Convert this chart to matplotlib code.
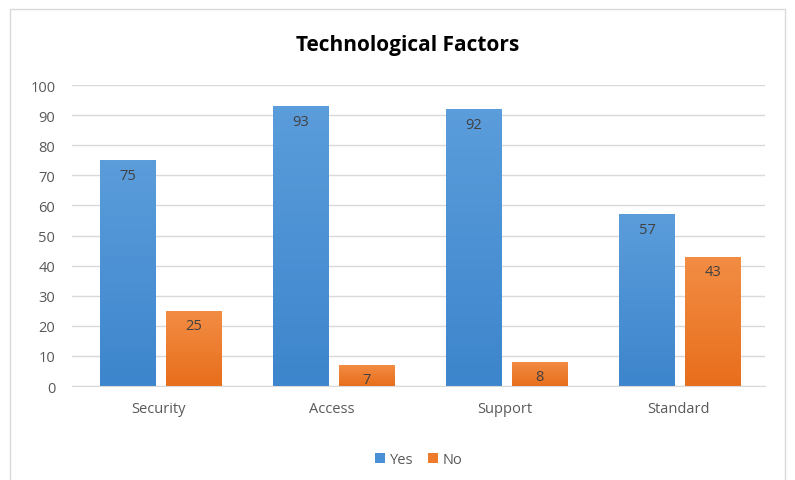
import numpy as np
import matplotlib.pyplot as plt
from matplotlib.patches import Rectangle

# data
categories = ["Security", "Access", "Support", "Standard"]
yes_vals = [75, 93, 92, 57]
no_vals = [25, 7, 8, 43]
series_names = ["Yes", "No"]

plt.rcParams['font.family'] = ['Open Sans', 'DejaVu Sans']

fig = plt.figure(figsize=(7.95, 4.81), dpi=100)
ax = fig.add_axes([0.0906, 0.1954, 0.8714, 0.6256])

# outer chart frame
fig.patches.append(Rectangle((0.013, -0.01), 0.975, 0.99, transform=fig.transFigure,
                             fill=False, edgecolor='#d9d9d9', linewidth=1))

x = np.arange(len(categories))
w = 0.32
off = 0.19

def grad_bars(bars, top, bottom):
    # vertical gradient inside every bar
    c1 = np.array(plt.matplotlib.colors.to_rgb(top))
    c2 = np.array(plt.matplotlib.colors.to_rgb(bottom))
    t = np.linspace(0, 1, 64)[:, None]
    img = (c1 * (1 - t) + c2 * t)[:, None, :]
    for b in bars:
        x0, y0 = b.get_x(), b.get_y()
        im = ax.imshow(img, extent=[x0, x0 + b.get_width(), y0, y0 + b.get_height()],
                       aspect='auto', origin='upper', zorder=2)
        im.set_clip_path(b)

bars_yes = ax.bar(x - off + 0.01, yes_vals, w, color='#4a90d6', label=series_names[0], zorder=2)
bars_no = ax.bar(x + off + 0.01, no_vals, w, color='#ee7b2c', label=series_names[1], zorder=2)
grad_bars(bars_yes, '#5b9ddb', '#3d85cc')
grad_bars(bars_no, '#f28d44', '#e86e1c')

for bars in (bars_yes, bars_no):
    for b in bars:
        h = b.get_height()
        ax.text(b.get_x() + b.get_width() / 2, h - 2.5, f"{h:g}", ha='center', va='top',
                fontsize=10.5, color='#404040', zorder=3)

ax.set_xlim(-0.5, len(categories) - 0.5)
ax.set_ylim(0, 100)
ax.set_yticks(range(0, 101, 10))
ax.set_xticks(x)
ax.set_xticklabels(categories)
ax.tick_params(axis='both', length=0, labelsize=10.5, colors='#595959')
ax.tick_params(axis='x', pad=11)
ax.tick_params(axis='y', pad=12)
ax.yaxis.grid(True, color='#d9d9d9', linewidth=1, zorder=0)
ax.set_axisbelow(True)
for s in ['top', 'right', 'left']:
    ax.spines[s].set_visible(False)
ax.spines['bottom'].set_color('#d9d9d9')

fig.text(0.513, 0.905, "Technological Factors", ha='center', va='center',
         fontsize=15, fontweight='bold', color='#000000')

ax.legend(loc='upper center', bbox_to_anchor=(0.5, -0.175), ncol=2, frameon=False,
          fontsize=10.5, handlelength=0.7, handleheight=0.7, handletextpad=0.3,
          columnspacing=1.0, labelcolor='#595959')

fig.savefig("out.png", dpi=100)
